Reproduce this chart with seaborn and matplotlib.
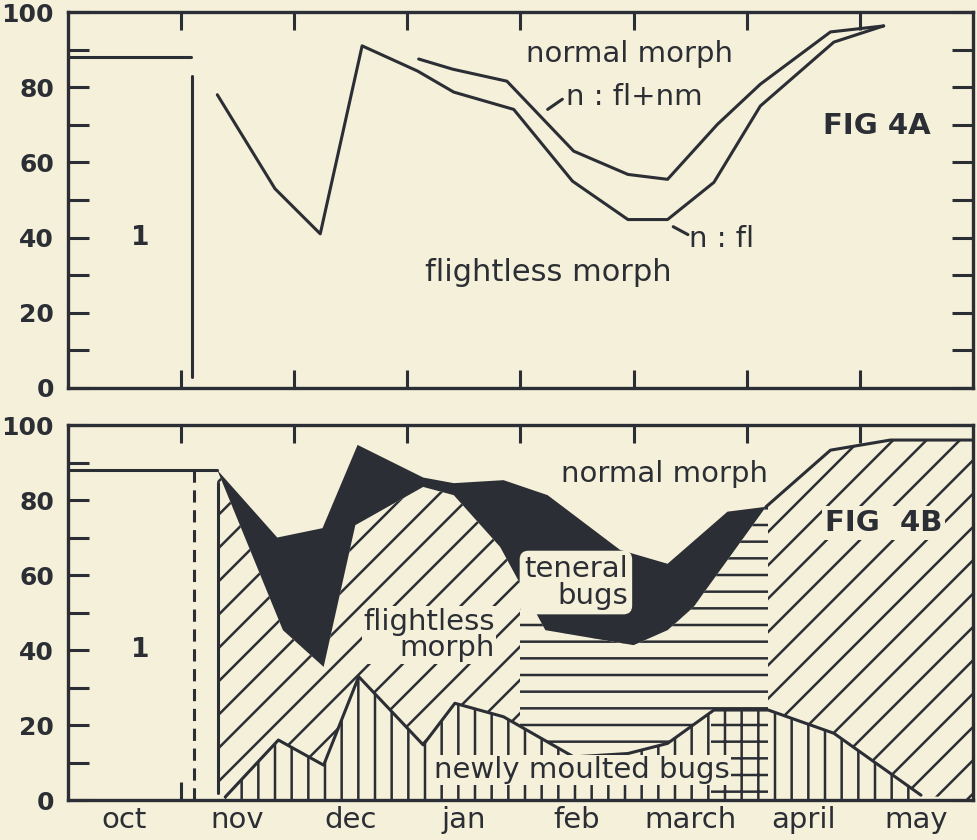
import numpy as np
import matplotlib
matplotlib.use("Agg")
import matplotlib.pyplot as plt
import matplotlib.patches as mpatches
import seaborn as sns

BG = "#f5f0d9"
INK = "#2b2e34"

# ---------------- data ----------------
months = ["oct", "nov", "dec", "jan", "feb", "march", "april", "may"]
month_bounds = [1, 2, 3, 4, 5, 6, 7]
yticks = [0, 20, 40, 60, 80, 100]

# FIG 4A
ratio_a_x = [0.0, 1.09]
ratio_a_y = [88, 88]
fl_x = [1.32, 1.83, 2.23, 2.60, 3.09, 3.41, 3.94, 4.46, 4.95, 5.30, 5.71, 6.12, 6.77, 7.21]
fl_y = [78, 53, 41, 91, 84.3, 78.7, 74.1, 55, 44.8, 44.8, 54.7, 75, 92, 96.3]
flnm_x = [3.10, 3.40, 3.88, 4.47, 4.95, 5.30, 5.74, 6.12, 6.74, 7.21]
flnm_y = [87.5, 84.8, 81.6, 63, 56.8, 55.5, 70.1, 80.8, 94.7, 96.3]

# FIG 4B
ratio_b_x = [0.0, 1.32]
ratio_b_y = [88, 88]
ten_top_x = [1.32, 1.85, 2.25, 2.56, 3.14, 3.41, 3.85, 4.24, 4.88, 5.30, 5.83, 6.17]
ten_top_y = [88, 70, 72.5, 94.7, 86, 84.5, 85.3, 81.3, 66.7, 63, 76.9, 78.2]
ten_bot_x = [1.32, 1.90, 2.26, 2.54, 3.14, 3.41, 3.82, 4.22, 5.00, 5.30, 5.53, 6.17]
ten_bot_y = [88, 45.3, 35.5, 73.3, 83.5, 81.3, 67.5, 45.3, 41.3, 45.3, 51.5, 78.2]
nm_x = [6.17, 6.74, 7.27, 8.0]
nm_y = [78.2, 93.3, 96, 96]
new_x = [1.39, 1.86, 2.26, 2.57, 3.14, 3.42, 3.85, 4.47, 4.95, 5.30, 5.71, 6.19, 6.77, 7.54]
new_y = [0.8, 16, 9.3, 32.9, 14.7, 25.8, 22.2, 11.5, 12.4, 15.1, 24, 24, 17.8, 1.3]

# ---------------- style ----------------
sns.set_style("ticks")
plt.rcParams["font.family"] = ["DejaVu Sans"]
plt.rcParams["hatch.linewidth"] = 1.8
plt.rcParams["axes.linewidth"] = 2.4

fig = plt.figure(figsize=(9.78, 8.4), dpi=100)
fig.patch.set_facecolor(BG)
axA = fig.add_axes([0.0695, 0.5381, 0.9254, 0.4476])
axB = fig.add_axes([0.0695, 0.0476, 0.9254, 0.4464])

LW = 2.2
FS = 21

for ax in (axA, axB):
    ax.set_facecolor(BG)
    ax.set_xlim(0, 8)
    ax.set_ylim(0, 100)
    for s in ax.spines.values():
        s.set_color(INK)
        s.set_linewidth(2.4)
    ax.set_xticks(month_bounds)
    ax.set_xticks(np.arange(0.5, 8, 1), minor=True)
    ax.set_yticks(yticks)
    ax.set_yticks(range(10, 100, 20), minor=True)
    ax.tick_params(axis="x", which="major", direction="in", length=13, width=2.2,
                   top=True, bottom=True, labelbottom=False, color=INK)
    ax.tick_params(axis="x", which="minor", length=0, top=False, bottom=True,
                   labelbottom=False)
    ax.tick_params(axis="y", which="both", direction="in", length=15, width=2.2,
                   left=True, right=True, color=INK, labelsize=18, labelcolor=INK, pad=10)
    ax.set_yticklabels([str(v) for v in yticks], fontweight="bold")
    ax.set_xlabel("")
    ax.set_ylabel("")
    ax.text(0.64, 40, "1", fontsize=19, fontweight="bold", color=INK, ha="center", va="center")

axB.tick_params(axis="x", which="minor", labelbottom=True, labelsize=FS, labelcolor=INK, pad=4)
axB.set_xticklabels(months, minor=True)

# ---------------- FIG 4A ----------------
sns.lineplot(x=ratio_a_x, y=ratio_a_y, ax=axA, color=INK, lw=LW, estimator=None, sort=False)
axA.plot([1.10, 1.10], [3, 83], color=INK, lw=LW)
sns.lineplot(x=fl_x, y=fl_y, ax=axA, color=INK, lw=LW, estimator=None, sort=False)
sns.lineplot(x=flnm_x, y=flnm_y, ax=axA, color=INK, lw=LW, estimator=None, sort=False)
axA.plot([4.24, 4.37], [74.1, 76.8], color=INK, lw=LW)
axA.plot([5.35, 5.48], [42.9, 40.8], color=INK, lw=LW)
axA.text(4.96, 88.8, "normal morph", fontsize=FS, color=INK, ha="center", va="center")
axA.text(4.40, 77.5, "n : fl+nm", fontsize=FS, color=INK, ha="left", va="center")
axA.text(5.49, 39.5, "n : fl", fontsize=FS, color=INK, ha="left", va="center")
axA.text(4.25, 30.6, "flightless morph", fontsize=22, color=INK, ha="center", va="center")
axA.text(7.15, 69.6, "FIG 4A", fontsize=21, fontweight="bold", color=INK, ha="center", va="center")

# ---------------- FIG 4B ----------------
poly_x = ten_bot_x + nm_x[1:] + [8.0] + new_x[::-1] + [ten_bot_x[0]]
poly_y = ten_bot_y + nm_y[1:] + [0] + new_y[::-1] + [0]
axB.fill(poly_x, poly_y, facecolor=BG, edgecolor=INK, hatch="/", linewidth=0, zorder=1)
ph = axB.fill(poly_x, poly_y, facecolor=BG, edgecolor=INK, hatch="-", linewidth=0, zorder=1.1)[0]
ph.set_clip_path(mpatches.Rectangle((4.0, -5), 2.19, 110, transform=axB.transData))

new_px = new_x + [new_x[-1], new_x[0]]
new_py = new_y + [0, 0]
axB.fill(new_px, new_py, facecolor=BG, edgecolor=INK, hatch="|", linewidth=0, zorder=1.2)
pn = axB.fill(new_px, new_py, facecolor=BG, edgecolor=INK, hatch="+", linewidth=0, zorder=1.3)[0]
pn.set_clip_path(mpatches.Rectangle((5.68, -5), 0.51, 110, transform=axB.transData))

axB.fill(ten_top_x + ten_bot_x[::-1], ten_top_y + ten_bot_y[::-1], color=INK, lw=0, zorder=2)

sns.lineplot(x=ratio_b_x, y=ratio_b_y, ax=axB, color=INK, lw=LW, estimator=None, sort=False)
axB.plot([1.11, 1.11], [0, 88], color=INK, lw=LW, linestyle=(0, (4, 2.5)))
axB.plot([1.33, 1.33], [2, 84.5], color=INK, lw=LW)
sns.lineplot(x=nm_x, y=nm_y, ax=axB, color=INK, lw=LW, estimator=None, sort=False)
sns.lineplot(x=new_x, y=new_y, ax=axB, color=INK, lw=LW, estimator=None, sort=False)

box = dict(boxstyle="round,pad=0.15,rounding_size=0.3", facecolor=BG, edgecolor="none")
axB.text(5.27, 87, "normal morph", fontsize=FS, color=INK, ha="center", va="center")
axB.text(4.49, 58, "teneral\nbugs", fontsize=FS, color=INK, ha="center", va="center",
         multialignment="right", linespacing=0.95, bbox=box, zorder=5)
axB.text(3.19, 44, "flightless\nmorph", fontsize=FS, color=INK, ha="center", va="center",
         multialignment="right", linespacing=0.95,
         bbox=dict(boxstyle="square,pad=0.05", facecolor=BG, edgecolor="none"), zorder=5)
axB.text(4.54, 8, "newly moulted bugs", fontsize=FS, color=INK, ha="center", va="center",
         bbox=dict(boxstyle="square,pad=0.05", facecolor=BG, edgecolor="none"), zorder=5)
axB.text(7.21, 73.9, "FIG  4B", fontsize=21, fontweight="bold", color=INK, ha="center", va="center",
         bbox=dict(boxstyle="square,pad=0.1", facecolor=BG, edgecolor="none"), zorder=5)

fig.savefig("out.png", dpi=100, facecolor=BG)
